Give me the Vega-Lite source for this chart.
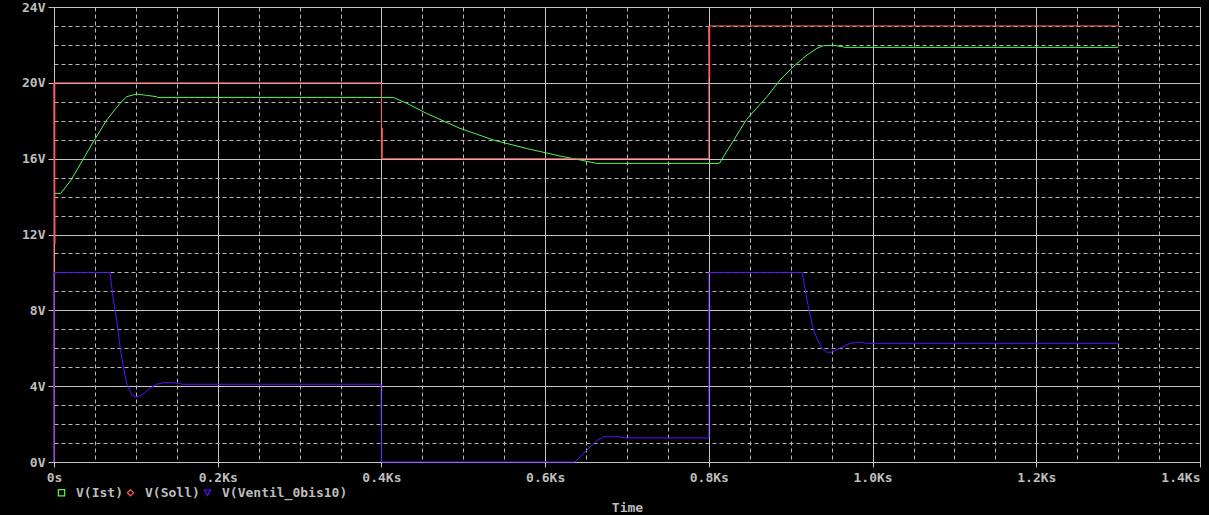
{
  "$schema": "https://vega.github.io/schema/vega-lite/v6.json",
  "autosize": {"type": "none"},
  "width": 1146,
  "height": 455,
  "padding": {"left": 54, "top": 7, "right": 9, "bottom": 53},
  "background": "black",
  "config": {
    "view": {"stroke": null},
    "font": "DejaVu Sans Mono"
  },
  "data": {
    "values": [
      {"s": "V(Ist)", "i": 1, "t": 0, "v": 14.17},
      {"s": "V(Ist)", "i": 2, "t": 0.0082, "v": 14.17},
      {"s": "V(Ist)", "i": 3, "t": 0.0208, "v": 14.87},
      {"s": "V(Ist)", "i": 4, "t": 0.048, "v": 16.89},
      {"s": "V(Ist)", "i": 5, "t": 0.0644, "v": 18.04},
      {"s": "V(Ist)", "i": 6, "t": 0.0806, "v": 18.92},
      {"s": "V(Ist)", "i": 7, "t": 0.0888, "v": 19.27},
      {"s": "V(Ist)", "i": 8, "t": 0.101, "v": 19.41},
      {"s": "V(Ist)", "i": 9, "t": 0.113, "v": 19.34},
      {"s": "V(Ist)", "i": 10, "t": 0.1255, "v": 19.27},
      {"s": "V(Ist)", "i": 11, "t": 0.126, "v": 19.23},
      {"s": "V(Ist)", "i": 12, "t": 0.4146, "v": 19.23},
      {"s": "V(Ist)", "i": 13, "t": 0.431, "v": 18.92},
      {"s": "V(Ist)", "i": 14, "t": 0.455, "v": 18.39},
      {"s": "V(Ist)", "i": 15, "t": 0.496, "v": 17.6},
      {"s": "V(Ist)", "i": 16, "t": 0.537, "v": 16.98},
      {"s": "V(Ist)", "i": 17, "t": 0.577, "v": 16.54},
      {"s": "V(Ist)", "i": 18, "t": 0.618, "v": 16.14},
      {"s": "V(Ist)", "i": 19, "t": 0.643, "v": 15.93},
      {"s": "V(Ist)", "i": 20, "t": 0.663, "v": 15.75},
      {"s": "V(Ist)", "i": 21, "t": 0.8128, "v": 15.75},
      {"s": "V(Ist)", "i": 22, "t": 0.838, "v": 17.51},
      {"s": "V(Ist)", "i": 23, "t": 0.846, "v": 18.07},
      {"s": "V(Ist)", "i": 24, "t": 0.871, "v": 19.27},
      {"s": "V(Ist)", "i": 25, "t": 0.887, "v": 20.15},
      {"s": "V(Ist)", "i": 26, "t": 0.903, "v": 20.85},
      {"s": "V(Ist)", "i": 27, "t": 0.92, "v": 21.47},
      {"s": "V(Ist)", "i": 28, "t": 0.932, "v": 21.82},
      {"s": "V(Ist)", "i": 29, "t": 0.94, "v": 21.96},
      {"s": "V(Ist)", "i": 30, "t": 0.952, "v": 21.98},
      {"s": "V(Ist)", "i": 31, "t": 0.964, "v": 21.9},
      {"s": "V(Ist)", "i": 32, "t": 0.966, "v": 21.87},
      {"s": "V(Ist)", "i": 33, "t": 1.3, "v": 21.87},
      {"s": "V(Soll)", "i": 1, "t": 0, "v": 0},
      {"s": "V(Soll)", "i": 2, "t": 0, "v": 20},
      {"s": "V(Soll)", "i": 3, "t": 0.001, "v": 11.5},
      {"s": "V(Soll)", "i": 4, "t": 0.001, "v": 20},
      {"s": "V(Soll)", "i": 5, "t": 0.4, "v": 20},
      {"s": "V(Soll)", "i": 6, "t": 0.4, "v": 16},
      {"s": "V(Soll)", "i": 7, "t": 0.401, "v": 17.6},
      {"s": "V(Soll)", "i": 8, "t": 0.401, "v": 16},
      {"s": "V(Soll)", "i": 9, "t": 0.8, "v": 16},
      {"s": "V(Soll)", "i": 10, "t": 0.8, "v": 23},
      {"s": "V(Soll)", "i": 11, "t": 0.801, "v": 20.3},
      {"s": "V(Soll)", "i": 12, "t": 0.801, "v": 23},
      {"s": "V(Soll)", "i": 13, "t": 1.3, "v": 23},
      {"s": "V(Ventil_0bis10)", "i": 1, "t": 0, "v": 0},
      {"s": "V(Ventil_0bis10)", "i": 2, "t": 0, "v": 10},
      {"s": "V(Ventil_0bis10)", "i": 3, "t": 0.0684, "v": 10},
      {"s": "V(Ventil_0bis10)", "i": 4, "t": 0.0725, "v": 8.54},
      {"s": "V(Ventil_0bis10)", "i": 5, "t": 0.0766, "v": 7.49},
      {"s": "V(Ventil_0bis10)", "i": 6, "t": 0.0806, "v": 6.08},
      {"s": "V(Ventil_0bis10)", "i": 7, "t": 0.0847, "v": 5.03},
      {"s": "V(Ventil_0bis10)", "i": 8, "t": 0.0888, "v": 4.15},
      {"s": "V(Ventil_0bis10)", "i": 9, "t": 0.0949, "v": 3.53},
      {"s": "V(Ventil_0bis10)", "i": 10, "t": 0.101, "v": 3.41},
      {"s": "V(Ventil_0bis10)", "i": 11, "t": 0.109, "v": 3.59},
      {"s": "V(Ventil_0bis10)", "i": 12, "t": 0.117, "v": 3.89},
      {"s": "V(Ventil_0bis10)", "i": 13, "t": 0.1255, "v": 4.1},
      {"s": "V(Ventil_0bis10)", "i": 14, "t": 0.1336, "v": 4.18},
      {"s": "V(Ventil_0bis10)", "i": 15, "t": 0.146, "v": 4.18},
      {"s": "V(Ventil_0bis10)", "i": 16, "t": 0.158, "v": 4.1},
      {"s": "V(Ventil_0bis10)", "i": 17, "t": 0.3995, "v": 4.1},
      {"s": "V(Ventil_0bis10)", "i": 18, "t": 0.4, "v": 0},
      {"s": "V(Ventil_0bis10)", "i": 19, "t": 0.6365, "v": 0},
      {"s": "V(Ventil_0bis10)", "i": 20, "t": 0.651, "v": 0.63},
      {"s": "V(Ventil_0bis10)", "i": 21, "t": 0.663, "v": 1.12},
      {"s": "V(Ventil_0bis10)", "i": 22, "t": 0.671, "v": 1.33},
      {"s": "V(Ventil_0bis10)", "i": 23, "t": 0.69, "v": 1.33},
      {"s": "V(Ventil_0bis10)", "i": 24, "t": 0.7, "v": 1.27},
      {"s": "V(Ventil_0bis10)", "i": 25, "t": 0.8, "v": 1.27},
      {"s": "V(Ventil_0bis10)", "i": 26, "t": 0.8, "v": 10},
      {"s": "V(Ventil_0bis10)", "i": 27, "t": 0.914, "v": 10},
      {"s": "V(Ventil_0bis10)", "i": 28, "t": 0.92, "v": 8.54},
      {"s": "V(Ventil_0bis10)", "i": 29, "t": 0.924, "v": 7.66},
      {"s": "V(Ventil_0bis10)", "i": 30, "t": 0.928, "v": 6.96},
      {"s": "V(Ventil_0bis10)", "i": 31, "t": 0.932, "v": 6.52},
      {"s": "V(Ventil_0bis10)", "i": 32, "t": 0.938, "v": 6.0},
      {"s": "V(Ventil_0bis10)", "i": 33, "t": 0.944, "v": 5.79},
      {"s": "V(Ventil_0bis10)", "i": 34, "t": 0.95, "v": 5.79},
      {"s": "V(Ventil_0bis10)", "i": 35, "t": 0.96, "v": 6.0},
      {"s": "V(Ventil_0bis10)", "i": 36, "t": 0.97, "v": 6.22},
      {"s": "V(Ventil_0bis10)", "i": 37, "t": 0.979, "v": 6.31},
      {"s": "V(Ventil_0bis10)", "i": 38, "t": 0.989, "v": 6.31},
      {"s": "V(Ventil_0bis10)", "i": 39, "t": 0.991, "v": 6.26},
      {"s": "V(Ventil_0bis10)", "i": 40, "t": 1.3, "v": 6.26}
    ]
  },
  "resolve": {"axis": {"x": "independent", "y": "independent"}},
  "layer": [
    {
      "mark": {"type": "line", "opacity": 0},
      "encoding": {
        "x": {
          "field": "t", "type": "quantitative",
          "scale": {"domain": [0, 1.4], "nice": false, "zero": false},
          "axis": {
            "orient": "bottom",
            "values": [0, 0.05, 0.1, 0.15, 0.2, 0.25, 0.3, 0.35, 0.4, 0.45, 0.5, 0.55, 0.6, 0.65, 0.7, 0.75, 0.8, 0.85, 0.9, 0.95, 1.0, 1.05, 1.1, 1.15, 1.2, 1.25, 1.3, 1.35, 1.4],
            "grid": true, "gridColor": "#b8b8b8", "gridDash": [4, 3], "gridWidth": 1, "gridOpacity": 1,
            "labels": false, "ticks": false, "domain": false, "title": null
          }
        },
        "y": {
          "field": "v", "type": "quantitative",
          "scale": {"domain": [0, 24], "nice": false, "zero": false},
          "axis": {
            "orient": "left",
            "values": [0, 1, 2, 3, 4, 5, 6, 7, 8, 9, 10, 11, 12, 13, 14, 15, 16, 17, 18, 19, 20, 21, 22, 23, 24],
            "grid": true, "gridColor": "#b8b8b8", "gridDash": [4, 3], "gridWidth": 1, "gridOpacity": 1,
            "labels": false, "ticks": false, "domain": false, "title": null
          }
        },
        "detail": {"field": "s"},
        "order": {"field": "i", "type": "quantitative"}
      }
    },
    {
      "mark": {"type": "line", "strokeWidth": 1, "interpolate": "linear"},
      "encoding": {
        "x": {
          "field": "t", "type": "quantitative",
          "scale": {"domain": [0, 1.4], "nice": false, "zero": false},
          "axis": {
            "orient": "bottom",
            "values": [0, 0.2, 0.4, 0.6, 0.8, 1.0, 1.2, 1.4],
            "grid": true, "gridColor": "#c4c4c4", "gridWidth": 1, "gridOpacity": 1,
            "domain": true, "domainColor": "#c4c4c4", "domainWidth": 1,
            "ticks": true, "tickColor": "#c4c4c4", "tickSize": 5, "tickWidth": 1,
            "labelExpr": "datum.value == 0 ? '0s' : format(datum.value, '.1f') + 'Ks'",
            "labelColor": "#bdbdbd", "labelFont": "DejaVu Sans Mono", "labelFontSize": 13, "labelFontWeight": "bold",
            "labelPadding": 4, "labelFlush": false, "labelOverlap": false,
            "labelAlign": {"condition": {"test": "datum.value >= 1.39", "value": "right"}, "value": "center"},
            "title": "Time", "titleColor": "#bdbdbd", "titleFont": "DejaVu Sans Mono", "titleFontSize": 13, "titleFontWeight": "bold",
            "titlePadding": 17
          }
        },
        "y": {
          "field": "v", "type": "quantitative",
          "scale": {"domain": [0, 24], "nice": false, "zero": false},
          "axis": {
            "orient": "left",
            "values": [0, 4, 8, 12, 16, 20, 24],
            "grid": true, "gridColor": "#c4c4c4", "gridWidth": 1, "gridOpacity": 1,
            "domain": true, "domainColor": "#c4c4c4", "domainWidth": 1,
            "ticks": true, "tickColor": "#c4c4c4", "tickSize": 6, "tickWidth": 1,
            "labelExpr": "datum.value + 'V'",
            "labelColor": "#bdbdbd", "labelFont": "DejaVu Sans Mono", "labelFontSize": 13, "labelFontWeight": "bold",
            "labelPadding": 3, "labelFlush": false, "labelOverlap": false,
            "title": null
          }
        },
        "color": {
          "field": "s", "type": "nominal",
          "scale": {"domain": ["V(Ist)", "V(Soll)", "V(Ventil_0bis10)"], "range": ["#55f555", "#ff5a5a", "#5a10ff"]},
          "legend": {
            "orient": "none", "legendX": 1, "legendY": 479, "direction": "horizontal",
            "title": null, "padding": 0,
            "labelColor": "#bdbdbd", "labelFont": "DejaVu Sans Mono", "labelFontSize": 13, "labelFontWeight": "bold",
            "labelOffset": 8, "columnPadding": 1, "symbolSize": 40, "symbolStrokeWidth": 1.2,
            "encode": {
              "symbols": {
                "update": {
                  "shape": {"signal": "datum.value == 'V(Ist)' ? 'square' : datum.value == 'V(Soll)' ? 'diamond' : 'triangle-down'"},
                  "fill": {"value": "transparent"},
                  "strokeWidth": {"value": 1.2}
                }
              }
            }
          }
        },
        "order": {"field": "i", "type": "quantitative"}
      }
    }
  ]
}
